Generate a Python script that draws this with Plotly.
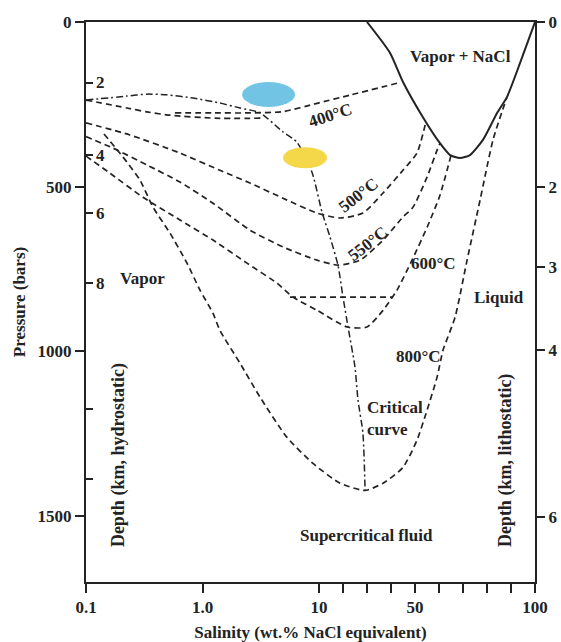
import numpy as np
import plotly.graph_objects as go

# ---------------- data: salinity (wt.% NaCl eq.) and pressure (bars) ----------------
HALITE_S = [30, 39.6, 45, 53.3, 60.4, 64.6, 68.75, 72.9, 78.3, 84.2, 88.3, 93.75, 100]
HALITE_P = [0, 94, 182, 289, 368, 404, 413, 404, 358, 276, 228, 125, 0]

T400_VAP_S = [0.1, 0.225, 0.334, 0.526, 1.28, 3.24]
T400_VAP_P = [237, 261, 273, 283, 292, 292]
T400_LIQ_S = [0.58, 1.28, 2.56, 4.91, 9.61, 22.9, 42.5]
T400_LIQ_P = [276, 276, 276, 272, 247, 222, 186]

T500_S = [0.1, 0.2385, 0.641, 1.41, 2.56, 4.91, 9.61, 18.75, 28.3, 36.7, 45, 50.8, 54.5]
T500_P = [306, 343, 398, 450, 489, 535, 580, 595, 580, 519, 450, 398, 305]

T550_S = [0.1, 0.1706, 0.334, 0.641, 1.23, 2.56, 4.91, 9.61, 17.9, 27.1, 36.7, 45, 49.2, 55, 59.2, 60.4]
T550_P = [348, 383, 434, 486, 550, 632, 683, 723, 738, 723, 662, 592, 562, 471, 389, 368]

T600_S = [0.1, 0.1607, 0.3083, 0.641, 1.23, 2.41, 4.36, 5.98, 9.61, 21.7, 30, 36.7, 42.5, 48.75, 55.4, 60.4, 65]
T600_P = [407, 459, 532, 601, 662, 732, 793, 835, 875, 926, 926, 875, 814, 723, 617, 526, 405]

T800_S = [0.1427, 0.2078, 0.2907, 0.3758, 0.526, 0.736, 0.952, 1.23, 1.41, 2.10, 3.12, 5.31, 8.88,
          18.75, 29.2, 36.7, 45, 50.8, 55, 59.2, 61.7, 66.7, 71.7, 77.1, 82.5, 88.3]
T800_P = [340, 410, 480, 562, 641, 732, 814, 884, 936, 1036, 1139, 1261, 1340,
          1400, 1422, 1400, 1352, 1270, 1179, 1078, 996, 896, 723, 541, 358, 228]

TIE600_S = [5.64, 40.8]
TIE600_P = [835, 835]

CRIT_S = [0.1, 0.2236, 0.3319, 0.4929, 0.829, 1.41, 2.10, 3.12, 4.91, 6.47, 8.71, 11.25, 14.6,
          17.9, 20, 22.1, 25, 26.25, 28.3, 29.2]
CRIT_P = [237, 225, 219, 221, 231, 246, 261, 276, 334, 365, 456, 577, 653,
          738, 835, 926, 1048, 1148, 1248, 1422]

# fluid-inclusion fields (centres)
BLUE_S, BLUE_P = 3.69, 220
YELLOW_S, YELLOW_P = 7.59, 412

# axis ticks
X_TICK_S = [0.1, 1, 10, 20, 30, 40, 50, 60, 70, 80, 90, 100]
X_TICK_TEXT = ["0.1", "1.0", "10", "", "", "", "50", "", "", "", "", "100"]
P_TICKS = [0, 500, 1000, 1500]
HYDRO_P = [185, 404, 580, 793, 1176, 1386]
HYDRO_TEXT = ["2", "4", "6", "8", "", ""]
LITHO_P = [0, 500, 745, 997, 1502]
LITHO_TEXT = ["0", "2", "3", "4", "6"]

# ---------------- hybrid salinity scale: log below 10 wt.%, linear above ----------------
LIN_SCALE = (216 / 116.5) / 90.0


def u(s):
    s = np.asarray(s, dtype=float)
    return np.where(s <= 10, np.log10(np.minimum(s, 10)), 1 + (s - 10) * LIN_SCALE)


X_MIN, X_MAX = -1.0, float(u(100))
PAD = 1e-6
P_MAX = 1700
PLOT_W, PLOT_H = 449, 560
UPX = (X_MAX - X_MIN) / PLOT_W   # axis units per pixel
PPX = P_MAX / PLOT_H             # bars per pixel

INK = "#232323"
FONT = "Liberation Serif"
DASH = "6px,4px"

fig = go.Figure()


def add_line(s, p, dash=DASH, width=1.7, shape="spline"):
    fig.add_trace(go.Scatter(x=u(s), y=p, mode="lines",
                             line=dict(color=INK, width=width, dash=dash, shape=shape, smoothing=0.6),
                             showlegend=False, hoverinfo="skip", cliponaxis=True))


add_line(HALITE_S, HALITE_P, dash="solid", width=2)
add_line(T400_VAP_S, T400_VAP_P)
add_line(T400_LIQ_S, T400_LIQ_P)
add_line(T500_S, T500_P)
add_line(T550_S, T550_P)
add_line(T600_S, T600_P)
add_line(T800_S, T800_P)
add_line(TIE600_S, TIE600_P, shape="linear")
add_line(CRIT_S, CRIT_P, dash="7px,3px,2px,3px", width=1.5)

# dummy traces for secondary depth axes
fig.add_trace(go.Scatter(x=[], y=[], yaxis="y2", showlegend=False, hoverinfo="skip"))
fig.add_trace(go.Scatter(x=[], y=[], yaxis="y3", showlegend=False, hoverinfo="skip"))

# ellipses
for (cs, cp, w, h, col) in [(BLUE_S, BLUE_P, 53, 25, "#72c4e4"), (YELLOW_S, YELLOW_P, 44, 21, "#f5d74a")]:
    cx = float(u(cs))
    fig.add_shape(type="circle", xref="x", yref="y",
                  x0=cx - w / 2 * UPX, x1=cx + w / 2 * UPX,
                  y0=cp - h / 2 * PPX, y1=cp + h / 2 * PPX,
                  fillcolor=col, line=dict(width=0), layer="above")

labels = [
    ("Vapor + NaCl", 68.75, 106, 0, "center", 17),
    ("400°C", 14.6, 283, -18, "center", 17),
    ("500°C", 26.25, 526, -38, "center", 17),
    ("550°C", 30.4, 671, -38, "center", 17),
    ("600°C", 57.5, 732, 0, "center", 17),
    ("Liquid", 85, 835, 0, "center", 17),
    ("800°C", 51.25, 1015, 0, "center", 17),
    ("Critical<br>curve", 29.2, 1203, 0, "left", 17),
    ("Supercritical fluid", 29.6, 1558, 0, "center", 17),
    ("Vapor", 0.308, 778, 0, "center", 17),
    ("Depth (km, hydrostatic)", 0.188, 1315, -90, "center", 18),
    ("Depth (km, lithostatic)", 87.5, 1330, -90, "center", 18),
]
for text, s, p, ang, anchor, fs in labels:
    fig.add_annotation(x=float(u(s)), y=p, xref="x", yref="y", text=text, showarrow=False,
                       textangle=ang, xanchor=anchor, yanchor="middle", align="left",
                       font=dict(family=FONT, size=fs, color=INK, weight="bold"))

tickfont = dict(family=FONT, size=17, color=INK, weight="bold")

# hydrostatic depth labels sit inside the plot, just right of their ticks
for p, t in zip(HYDRO_P, HYDRO_TEXT):
    if t:
        fig.add_annotation(x=0, xref="paper", y=p, yref="y", text=t, showarrow=False,
                           xanchor="left", yanchor="middle", xshift=8, font=tickfont)

fig.update_layout(
    width=561, height=642,
    margin=dict(l=86, r=26, t=22, b=60),
    paper_bgcolor="white", plot_bgcolor="white",
    font=dict(family=FONT, size=17, color=INK),
    xaxis=dict(range=[X_MIN - PAD, X_MAX + PAD], tickvals=u(X_TICK_S).tolist(), ticktext=X_TICK_TEXT,
               ticks="outside", ticklen=9, tickwidth=1.5, tickcolor=INK,
               showline=True, linewidth=2, linecolor=INK, mirror=True, automargin=False,
               showgrid=False, zeroline=False, tickfont=tickfont,
               title=dict(text="Salinity (wt.% NaCl equivalent)", font=tickfont, standoff=10)),
    yaxis=dict(range=[P_MAX, 0], tickvals=P_TICKS, ticks="outside", ticklen=9, tickwidth=1.5,
               tickcolor=INK, showline=True, linewidth=2, linecolor=INK, automargin=False,
               showgrid=False, zeroline=False, tickfont=tickfont,
               title=dict(text="Pressure (bars)", font=tickfont, standoff=8)),
    yaxis2=dict(range=[P_MAX, 0], overlaying="y", side="left", anchor="x",
                tickvals=HYDRO_P, ticks="inside", ticklen=7, tickwidth=1.5,
                tickcolor=INK, showticklabels=False,
                showline=False, showgrid=False, automargin=False, zeroline=False),
    yaxis3=dict(range=[P_MAX, 0], overlaying="y", side="right", anchor="x",
                tickvals=LITHO_P, ticktext=LITHO_TEXT, ticks="outside", ticklen=8, tickwidth=1.5,
                tickcolor=INK, showline=True, linewidth=2, linecolor=INK, showgrid=False,
                zeroline=False, tickfont=tickfont, automargin=False),
)

fig.write_html("out.html")
